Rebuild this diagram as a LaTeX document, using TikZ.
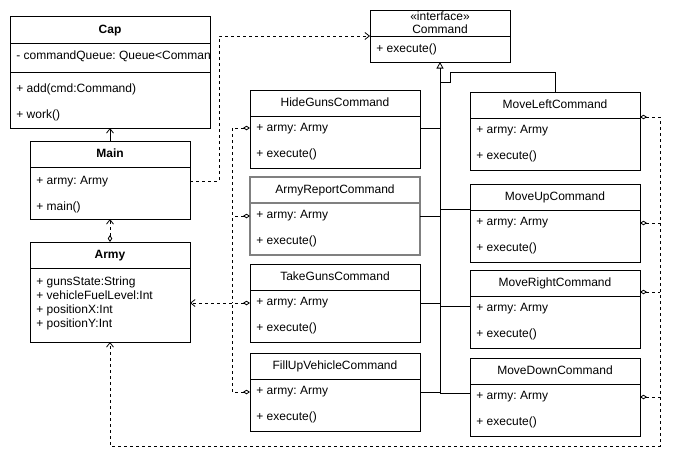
\documentclass[tikz,border=0pt]{standalone}
\usepackage{fontspec}
\setmainfont{Liberation Sans}
\usetikzlibrary{arrows.meta,calc}
\definecolor{selgray}{RGB}{128,128,128}
\frenchspacing

% one command class: [extra style]{name}{x}{y}{title}
\newcommand{\cmdbox}[5][]{%
  \node[box, #1] (#2) at (#3,#4) {};
  \draw[#1] ($(#2.north west)+(0,26)$) -- ($(#2.north east)+(0,26)$);
  \node[txt] (#2-title) at ($(#2.north)+(0,13)$) {#5};
  \node[txt, anchor=west] (#2-attr) at ($(#2.north west)+(6,38.5)$) {+ army: Army};
  \node[txt, anchor=west] (#2-op) at ($(#2.north west)+(6,64.5)$) {+ execute()};
}

\begin{document}
\begin{tikzpicture}[x=1pt, y=-1pt, line width=0.8pt,
  box/.style={draw, anchor=north west, inner sep=0pt, outer sep=0pt,
    minimum width=170pt, minimum height=78pt},
  txt/.style={inner sep=0pt, font=\fontsize{12}{14}\selectfont,
    text height=8.5pt, text depth=2.5pt},
  selbox/.style={draw=selgray, line width=1.2pt},
  depline/.style={dash pattern=on 3pt off 3pt},
  aggr/.tip={Diamond[open, length=7pt, width=4.5pt]},
  barb/.tip={Straight Barb[length=4.5pt, width=7pt]},
  realize/.tip={Triangle[open, length=6.5pt, width=7pt]}
]
\useasboundingbox (0,0) rectangle (680,466);

% ---- Cap ----
\node[box, minimum width=200pt, minimum height=112pt] (cap) at (10,16) {};
\draw ($(cap.north west)+(0,27)$) -- ($(cap.north east)+(0,27)$);
\draw ($(cap.north west)+(0,56)$) -- ($(cap.north east)+(0,56)$);
\node[txt, font=\fontsize{12}{14}\selectfont\bfseries] (cap-title) at ($(cap.north)+(0,14.5)$) {Cap};
\begin{scope}
  \clip (cap.north west) rectangle (cap.south east);
  \node[txt, anchor=west] (cap-attr) at ($(cap.north west)+(6,40.5)$) {- commandQueue: Queue<Command>};
\end{scope}
\node[txt, anchor=west] (cap-add) at ($(cap.north west)+(6,73.5)$) {+ add(cmd:Command)};
\node[txt, anchor=west] (cap-work) at ($(cap.north west)+(6,99.5)$) {+ work()};

% ---- Main ----
\node[box, minimum width=160pt, minimum height=78pt] (main) at (30,141) {};
\draw ($(main.north west)+(0,26)$) -- ($(main.north east)+(0,26)$);
\node[txt, font=\fontsize{12}{14}\selectfont\bfseries] (main-title) at ($(main.north)+(0,13.5)$) {Main};
\node[txt, anchor=west] (main-attr) at ($(main.north west)+(6,40)$) {+ army: Army};
\node[txt, anchor=west] (main-op) at ($(main.north west)+(6,66)$) {+ main()};

% ---- Army ----
\node[box, minimum width=160pt, minimum height=100pt] (army) at (30,242) {};
\draw ($(army.north west)+(0,26)$) -- ($(army.north east)+(0,26)$);
\node[txt, font=\fontsize{12}{14}\selectfont\bfseries] (army-title) at ($(army.north)+(0,13.5)$) {Army};
\node[txt, anchor=west] (army-a1) at ($(army.north west)+(6,40)$) {+ gunsState:String};
\node[txt, anchor=west] (army-a2) at ($(army.north west)+(6,54)$) {+ vehicleFuelLevel:Int};
\node[txt, anchor=west] (army-a3) at ($(army.north west)+(6,68)$) {+ positionX:Int};
\node[txt, anchor=west] (army-a4) at ($(army.north west)+(6,82)$) {+ positionY:Int};

% ---- Command interface ----
\node[box, minimum width=140pt, minimum height=52pt] (iface) at (370,10) {};
\draw ($(iface.north west)+(0,26)$) -- ($(iface.north east)+(0,26)$);
\node[txt] (iface-st) at ($(iface.north)+(0,7)$) {«interface»};
\node[txt] (iface-title) at ($(iface.north)+(0,20.5)$) {Command};
\node[txt, anchor=west] (iface-op) at ($(iface.north west)+(6,39.5)$) {+ execute()};

% ---- concrete commands ----
\cmdbox{hide}{250}{90}{HideGunsCommand}
\cmdbox[selbox]{report}{250}{177}{ArmyReportCommand}
\cmdbox{take}{250}{264}{TakeGunsCommand}
\cmdbox{fill}{250}{353}{FillUpVehicleCommand}
\cmdbox{mleft}{470}{92}{MoveLeftCommand}
\cmdbox{mup}{470}{184}{MoveUpCommand}
\cmdbox{mright}{470}{270}{MoveRightCommand}
\cmdbox{mdown}{470}{358}{MoveDownCommand}

% connection points on the class sides
\coordinate (mainR) at ($(main.north east)+(0,40)$);
\coordinate (ifaceL) at ($(iface.north west)+(0,26)$);
\coordinate (hideR) at ($(hide.north east)+(0,38)$);
\coordinate (reportR) at ($(report.north east)+(0,39)$);
\coordinate (takeR) at ($(take.north east)+(0,39)$);
\coordinate (fillR) at ($(fill.north east)+(0,39)$);
\coordinate (mupL) at ($(mup.north west)+(0,25)$);
\coordinate (mrightL) at ($(mright.north west)+(0,36)$);
\coordinate (mdownL) at ($(mdown.north west)+(0,35)$);
\coordinate (hideL) at ($(hide.north west)+(0,38)$);
\coordinate (reportL) at ($(report.north west)+(0,39)$);
\coordinate (takeL) at ($(take.north west)+(0,39)$);
\coordinate (fillL) at ($(fill.north west)+(0,39)$);
\coordinate (mleftR) at ($(mleft.north east)+(0,25)$);
\coordinate (mupR) at ($(mup.north east)+(0,39)$);
\coordinate (mrightR) at ($(mright.north east)+(0,22)$);
\coordinate (mdownR) at ($(mdown.north east)+(0,39)$);

% Main -> Cap
\draw[-barb] (main.north) -- (cap.south);
% Army -> Main
\draw[depline, aggr-barb] (army.north) -- (main.south);
% Main -> Command
\draw[depline, -barb] (mainR) -- ++(29,0) |- (ifaceL);

% generalisation into Command
\draw[-realize] (mdownL) -| (iface.south);
\draw (hideR) -- (hideR -| iface.south);
\draw (reportR) -- (reportR -| iface.south);
\draw (takeR) -- (takeR -| iface.south);
\draw (fillR) -- (fillR -| iface.south);
\draw (mupL) -- (mupL -| iface.south);
\draw (mrightL) -- (mrightL -| iface.south);
\draw (mleft.north) |- ($(iface.south)+(10,10)$) -- ++(0,10) -- ++(-10,0);

% commands hold an Army (left column)
\draw[depline, aggr-barb] (takeL) -- (takeL -| army.east);
\draw[depline, aggr-] (hideL) -- ++(-18,0) -- ($(takeL)+(-18,0)$);
\draw[depline, aggr-] (reportL) -- ++(-18,0);
\draw[depline, aggr-] (fillL) -- ++(-18,0) -- ($(takeL)+(-18,0)$);

% commands hold an Army (right column)
\draw[depline, aggr-barb] (mleftR) -- ++(20,0) |- ($(army.south)+(0,104)$) -- (army.south);
\draw[depline, aggr-] (mupR) -- ++(20,0);
\draw[depline, aggr-] (mrightR) -- ++(20,0);
\draw[depline, aggr-] (mdownR) -- ++(20,0);
\end{tikzpicture}
\end{document}
